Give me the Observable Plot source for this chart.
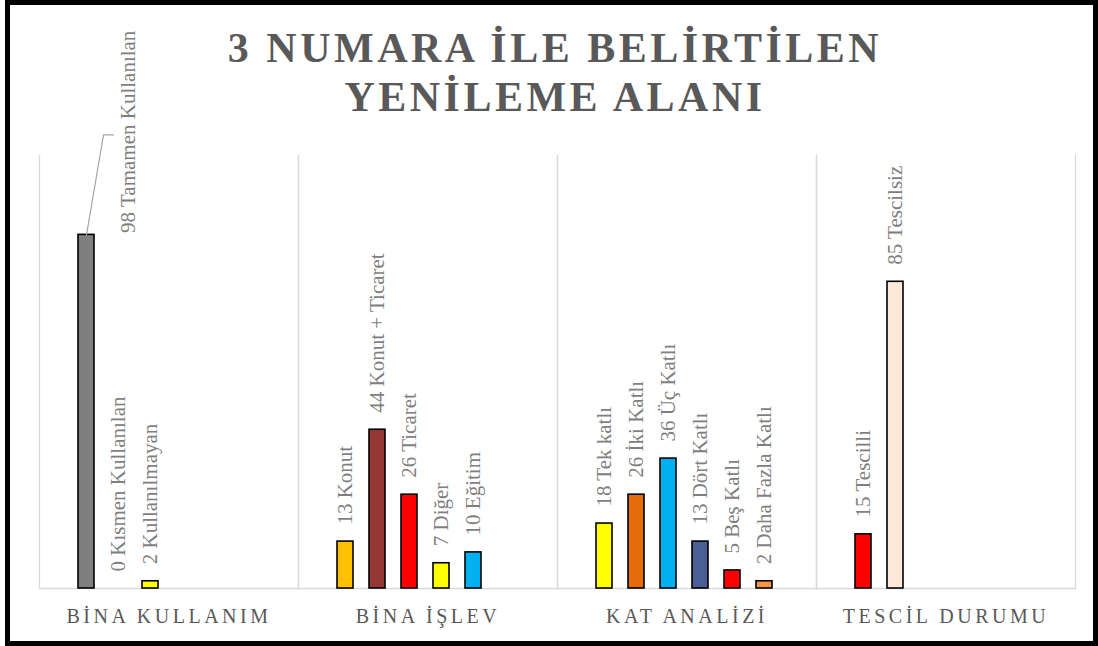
<!DOCTYPE html>
<html><head><meta charset="utf-8">
<script src="https://cdn.jsdelivr.net/npm/d3@7"></script>
<script src="https://cdn.jsdelivr.net/npm/@observablehq/plot@0.6"></script>
<style>
html,body{margin:0;padding:0;background:#fff;}
#wrap{position:relative;width:1098px;height:646px;overflow:hidden;background:#fff;}
#chart svg{display:block;overflow:visible;}
#title{position:absolute;left:6px;top:24px;width:1098px;text-align:center;font-family:"Liberation Serif","Times New Roman",serif;font-weight:bold;font-size:42px;line-height:49px;letter-spacing:3.5px;color:#595959;}
#border{position:absolute;left:5px;top:0;right:0;bottom:0;border:5px solid #000;box-sizing:border-box;pointer-events:none;}
[aria-label="fx-axis tick label"] text{letter-spacing:3.5px;}
</style></head><body>
<div id="wrap"><div id="chart"></div><div id="title">3 NUMARA İLE BELİRTİLEN<br>YENİLEME ALANI</div><div id="border"></div></div>
<script>
const categories = ["BİNA KULLANIM", "BİNA İŞLEV", "KAT ANALİZİ", "TESCİL DURUMU"];

const kullanimNames = ["Tamamen Kullanılan", "Kısmen Kullanılan", "Kullanılmayan"];
const kullanimValues = [98, 0, 2];
const kullanimColors = ["#7f7f7f", "#a6a6a6", "#ffff00"];

const islevNames = ["Konut", "Konut + Ticaret", "Ticaret", "Diğer", "Eğitim"];
const islevValues = [13, 44, 26, 7, 10];
const islevColors = ["#ffc000", "#953735", "#ff0000", "#ffff00", "#00b0f0"];

const katNames = ["Tek katlı", "İki Katlı", "Üç Katlı", "Dört Katlı", "Beş Katlı", "Daha Fazla Katlı"];
const katValues = [18, 26, 36, 13, 5, 2];
const katColors = ["#ffff00", "#e46c0a", "#00b0f0", "#4a6094", "#ff0000", "#f79646"];

const tescilNames = ["Tescilli", "Tescilsiz"];
const tescilValues = [15, 85];
const tescilColors = ["#ff0000", "#fde9d9"];

const leaderLabel = "Tamamen Kullanılan";

const groups = [
  [categories[0], kullanimNames, kullanimValues, kullanimColors],
  [categories[1], islevNames, islevValues, islevColors],
  [categories[2], katNames, katValues, katColors],
  [categories[3], tescilNames, tescilValues, tescilColors]
];
const rows = [];
groups.forEach(([category, names, values, colors]) => {
  names.forEach((name, i) => rows.push({category, slot: i, name, value: values[i], color: colors[i], label: `${values[i]} ${name}`}));
});

const leaderShape = {
  draw(context, l) {
    context.moveTo(0, 0);
    context.lineTo(0.17 * l, -l);
    context.lineTo(0.27 * l, -l);
  }
};

const serif = '"Liberation Serif","Times New Roman",serif';
const normal = rows.filter(d => d.name !== leaderLabel);
const leader = rows.filter(d => d.name === leaderLabel);

const chart = Plot.plot({
  width: 1098,
  height: 646,
  marginTop: 155,
  marginBottom: 58,
  marginLeft: 38,
  marginRight: 22,
  style: {fontFamily: serif, background: "transparent", overflow: "visible"},
  fx: {domain: categories, padding: 0, label: null},
  x: {domain: d3.range(6), paddingInner: 0.5, paddingOuter: 1.19, align: 0.474, axis: null},
  y: {domain: [0, 120], axis: null},
  color: {type: "identity"},
  marks: [
    Plot.frame({anchor: "left", stroke: "#d9d9d9", strokeWidth: 1.3}),
    Plot.frame({anchor: "right", stroke: "#d9d9d9", strokeWidth: 1.3}),
    Plot.ruleY([0], {stroke: "#d9d9d9", strokeWidth: 1.5}),
    Plot.barY(rows.filter(d => d.value > 0), {fx: "category", x: "slot", y: "value", fill: "color", stroke: "#000", strokeWidth: 1.6}),
    Plot.text(normal, {fx: "category", x: "slot", y: "value", text: "label", rotate: -90, textAnchor: "start", dy: -17, fontSize: 21, fill: "#7f7f7f"}),
    Plot.text(leader, {fx: "category", x: "slot", y: "value", text: "label", rotate: -90, textAnchor: "start", dx: 42, dy: -2, fontSize: 21, fill: "#7f7f7f"}),
    Plot.vector(leader, {fx: "category", x: "slot", y: "value", length: 100, anchor: "start", shape: leaderShape, stroke: "#a6a6a6", strokeWidth: 1.2}),
    Plot.axisFx({anchor: "bottom", tickSize: 0, tickPadding: 20, fontSize: 20, fill: "#595959", label: null})
  ]
});
document.getElementById("chart").appendChild(chart);
</script>
</body></html>
